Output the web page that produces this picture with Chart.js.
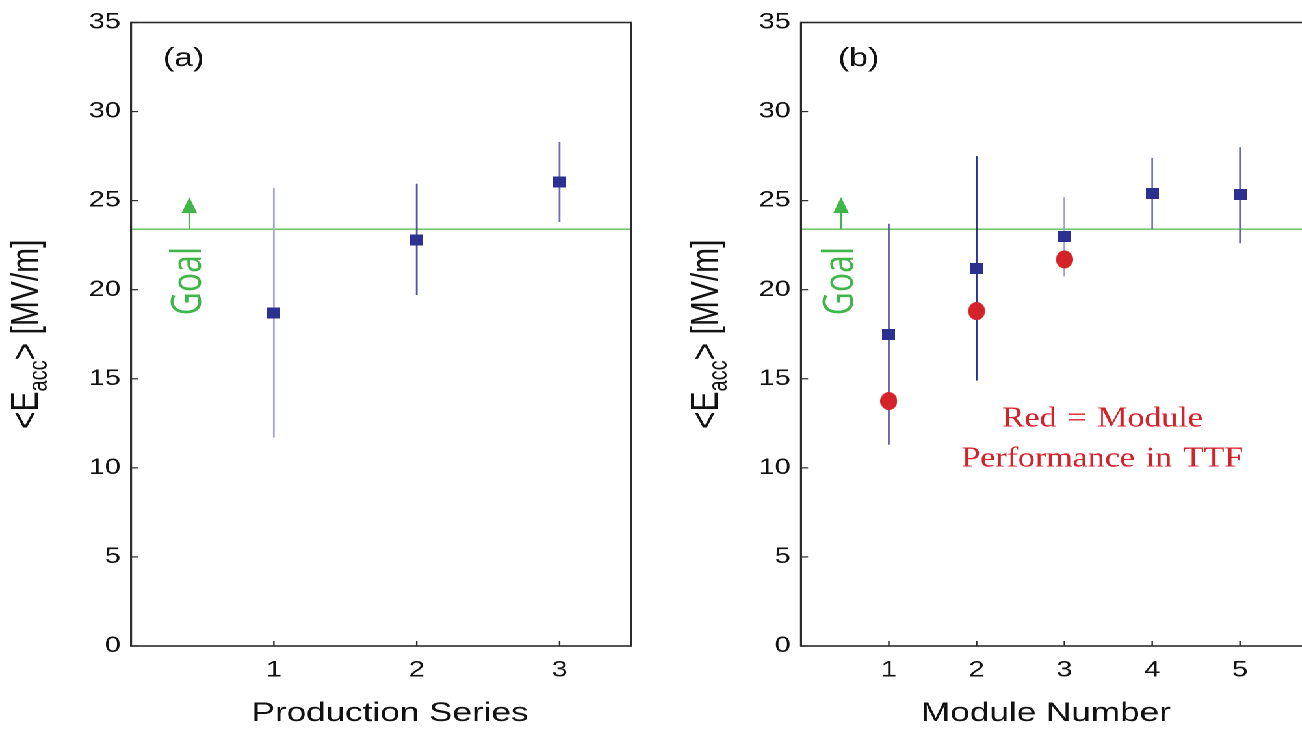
<!DOCTYPE html>
<html>
<head>
<meta charset="utf-8">
<script src="https://cdn.jsdelivr.net/npm/chart.js@4.4.1/dist/chart.umd.min.js"></script>
<style>
  html, body { margin: 0; padding: 0; overflow: hidden; background: #fff; width: 1302px; height: 736px; }
  #stage { position: absolute; left: 0; top: 0; width: 1040px; height: 736px; transform: scaleX(1.3); transform-origin: 0 0; }
  #stage canvas { position: absolute; top: 0; }
  #c1 { left: 0; }
  #c2 { left: 500px; }
</style>
</head>
<body>
<div id="stage">
  <canvas id="c1" width="500" height="736"></canvas>
  <canvas id="c2" width="540" height="736"></canvas>
</div>
<script>
// (a) average accelerating gradient for each production series
const seriesNumbers = [1, 2, 3];
const seriesGradient = [18.7, 22.8, 26.05];
const seriesLow = [11.7, 19.7, 23.8];
const seriesHigh = [25.7, 25.95, 28.3];

// (b) average gradient for each module, and module performance in TTF
const moduleNumbers = [1, 2, 3, 4, 5];
const moduleGradient = [17.5, 21.2, 23.0, 25.4, 25.35];
const moduleLow = [11.3, 14.9, 20.75, 23.4, 22.6];
const moduleHigh = [23.7, 27.5, 25.2, 27.4, 28.0];
const ttfModules = [1, 2, 3];
const ttfGradient = [13.75, 18.8, 21.7];

// design goal and its arrow
const goalGradient = 23.4;
const goalArrowTip = 25.2;

// tick labels
const yTicks = [0, 5, 10, 15, 20, 25, 30, 35];
const seriesTicks = [1, 2, 3];
const moduleTicks = [1, 2, 3, 4, 5];

// spread-bar colours
const seriesBarColors = ['#a5a6d7', '#4f53a2', '#6b6fb6'];
const moduleBarColors = ['#5a5eab', '#2e3192', '#9fa1d4', '#7679bc', '#6467b0'];

const SANS = '"Liberation Sans", Arial, sans-serif';
const SERIF = '"Liberation Serif", "Times New Roman", serif';
const GREEN = '#3fb54a';

function markerImage(w, h, paint) {
  const k = 2;
  const c = document.createElement('canvas');
  c.width = w * k; c.height = h * k;
  const g = c.getContext('2d');
  g.scale(k, k);
  paint(g, w, h);
  const img = new Image(w, h);
  img.src = c.toDataURL();
  return img;
}

const squareMark = markerImage(10, 11, (g, w, h) => {
  g.fillStyle = '#2c3191';
  g.fillRect(0, 0, w, h);
});
const dotMark = markerImage(13, 18, (g, w, h) => {
  g.fillStyle = '#d3222a';
  g.beginPath();
  g.ellipse(w / 2, h / 2, w / 2, h / 2, 0, 0, Math.PI * 2);
  g.fill();
});

function line(ctx, x1, y1, x2, y2) {
  ctx.beginPath(); ctx.moveTo(x1, y1); ctx.lineTo(x2, y2); ctx.stroke();
}

// frame, inward ticks, goal arrow and all panel annotations
const panelDecor = {
  id: 'panelDecor',
  afterDraw(chart, args, o) {
    const { ctx, chartArea: a, scales: { x, y } } = chart;
    ctx.save();
    ctx.strokeStyle = '#2b2b2b';
    ctx.lineWidth = 1.6;
    ctx.strokeRect(a.left, a.top, a.right - a.left, a.bottom - a.top);
    ctx.lineWidth = 1.2;
    y.ticks.forEach(t => { const py = y.getPixelForValue(t.value); line(ctx, a.left, py, a.left + 5.4, py); });
    x.ticks.forEach(t => { const px = x.getPixelForValue(t.value); line(ctx, px, a.bottom, px, a.bottom - 5); });

    // goal arrow
    const gx = x.getPixelForValue(o.goalX);
    const gy = y.getPixelForValue(goalGradient);
    const ty = y.getPixelForValue(goalArrowTip);
    ctx.strokeStyle = GREEN; ctx.fillStyle = GREEN;
    ctx.lineWidth = 1.4;
    line(ctx, gx, gy, gx, ty + 12);
    ctx.beginPath();
    ctx.moveTo(gx, ty); ctx.lineTo(gx - 6, ty + 16); ctx.lineTo(gx + 6, ty + 16);
    ctx.closePath(); ctx.fill();

    ctx.save();
    ctx.translate(gx + 9, gy + 52);
    ctx.rotate(-Math.PI / 2);
    ctx.font = '32px "Open Sans", sans-serif';
    ctx.textAlign = 'center'; ctx.textBaseline = 'alphabetic';
    ctx.fillText('Goal', 0, 0);
    ctx.restore();

    // panel letter
    ctx.fillStyle = '#111';
    ctx.font = '26px ' + SANS;
    ctx.textAlign = 'left'; ctx.textBaseline = 'alphabetic';
    ctx.fillText(o.letter, a.left + o.letterDx, 66);

    // x axis title
    ctx.font = '27px ' + SANS;
    ctx.textAlign = 'center';
    ctx.fillText(o.xTitle, o.xTitleX, 721);

    // y axis title with subscript
    ctx.save();
    ctx.translate(o.yTitleX, (a.top + a.bottom) / 2);
    ctx.rotate(-Math.PI / 2);
    ctx.textAlign = 'left';
    const big = '30px ' + SANS, small = '20px ' + SANS;
    ctx.font = big; const w1 = ctx.measureText('<E').width; const w3 = ctx.measureText('> [MV/m]').width;
    ctx.font = small; const w2 = ctx.measureText('acc').width;
    let sx = -(w1 + w2 + w3) / 2;
    ctx.font = big; ctx.fillText('<E', sx, 0); sx += w1;
    ctx.font = small; ctx.fillText('acc', sx, 7); sx += w2;
    ctx.font = big; ctx.fillText('> [MV/m]', sx, 0);
    ctx.restore();

    // red legend note
    if (o.note) {
      ctx.save();
      ctx.fillStyle = '#d3222a';
      ctx.font = '29px ' + SERIF;
      ctx.textAlign = 'center';
      ctx.wordSpacing = '2px';
      ctx.translate(o.noteX, o.noteY);
      ctx.scale(0.9, 1);
      o.note.forEach((t, i) => ctx.fillText(t, 0, i * 40));
      ctx.restore();
    }
    ctx.restore();
  }
};

function spreadBars(xs, lo, hi, colors) {
  return xs.map((x, i) => ({
    data: [{ x, y: lo[i] }, { x, y: hi[i] }],
    showLine: true, borderColor: colors[i], borderWidth: 1.4, pointRadius: 0
  }));
}

function makePanel(canvas, cfg) {
  const datasets = [];
  if (cfg.dotsX) {
    datasets.push({ data: cfg.dotsX.map((x, i) => ({ x, y: cfg.dotsY[i] })), pointStyle: dotMark, pointRadius: 7 });
  }
  datasets.push({ data: cfg.xs.map((x, i) => ({ x, y: cfg.ys[i] })), pointStyle: squareMark, pointRadius: 6 });
  datasets.push(...spreadBars(cfg.xs, cfg.lo, cfg.hi, cfg.barColors));
  datasets.push({
    data: [{ x: 0, y: goalGradient }, { x: cfg.xMax, y: goalGradient }],
    showLine: true, borderColor: '#74c774', borderWidth: 1.6, pointRadius: 0
  });

  return new Chart(canvas, {
    type: 'scatter',
    data: { datasets },
    options: {
      responsive: false,
      animation: false,
      devicePixelRatio: 2,
      events: [],
      layout: { padding: { left: 0, top: 22.5, right: cfg.padRight, bottom: 0 } },
      plugins: { legend: { display: false }, tooltip: { enabled: false }, panelDecor: cfg.decor },
      scales: {
        x: {
          type: 'linear', min: 0, max: cfg.xMax,
          grid: { display: false, drawTicks: false },
          border: { display: false },
          afterBuildTicks: s => { s.ticks = cfg.xTicks.map(v => ({ value: v })); },
          afterFit: s => { s.height = 90; },
          ticks: { font: { family: SANS, size: 22 }, color: '#111', padding: 11, maxRotation: 0, autoSkip: false }
        },
        y: {
          type: 'linear', min: 0, max: 35,
          grid: { display: false, drawTicks: false },
          border: { display: false },
          afterBuildTicks: s => { s.ticks = yTicks.map(v => ({ value: v })); },
          afterFit: s => { s.width = cfg.plotLeft; },
          ticks: { font: { family: SANS, size: 22 }, color: '#111', padding: 8, autoSkip: false }
        }
      }
    },
    plugins: [panelDecor]
  });
}

function build() {
  makePanel(document.getElementById('c1'), {
    xs: seriesNumbers, ys: seriesGradient, lo: seriesLow, hi: seriesHigh, barColors: seriesBarColors,
    xTicks: seriesTicks, xMax: 3.5, plotLeft: 100.8, padRight: 14.6,
    decor: { letter: '(a)', letterDx: 24.6, goalX: 0.408, xTitle: 'Production Series', xTitleX: 300, yTitleX: 29 }
  });
  makePanel(document.getElementById('c2'), {
    xs: moduleNumbers, ys: moduleGradient, lo: moduleLow, hi: moduleHigh, barColors: moduleBarColors,
    dotsX: ttfModules, dotsY: ttfGradient,
    xTicks: moduleTicks, xMax: 6, plotLeft: 116.2, padRight: 18.6,
    decor: {
      letter: '(b)', letterDx: 28.4, goalX: 0.456, xTitle: 'Module Number', xTitleX: 304.6, yTitleX: 52,
      note: ['Red = Module', 'Performance in TTF'], noteX: 348, noteY: 426.7
    }
  });
}

Promise.all([squareMark, dotMark].map(im => im.decode().catch(() => null))).then(build);
</script>
</body>
</html>
